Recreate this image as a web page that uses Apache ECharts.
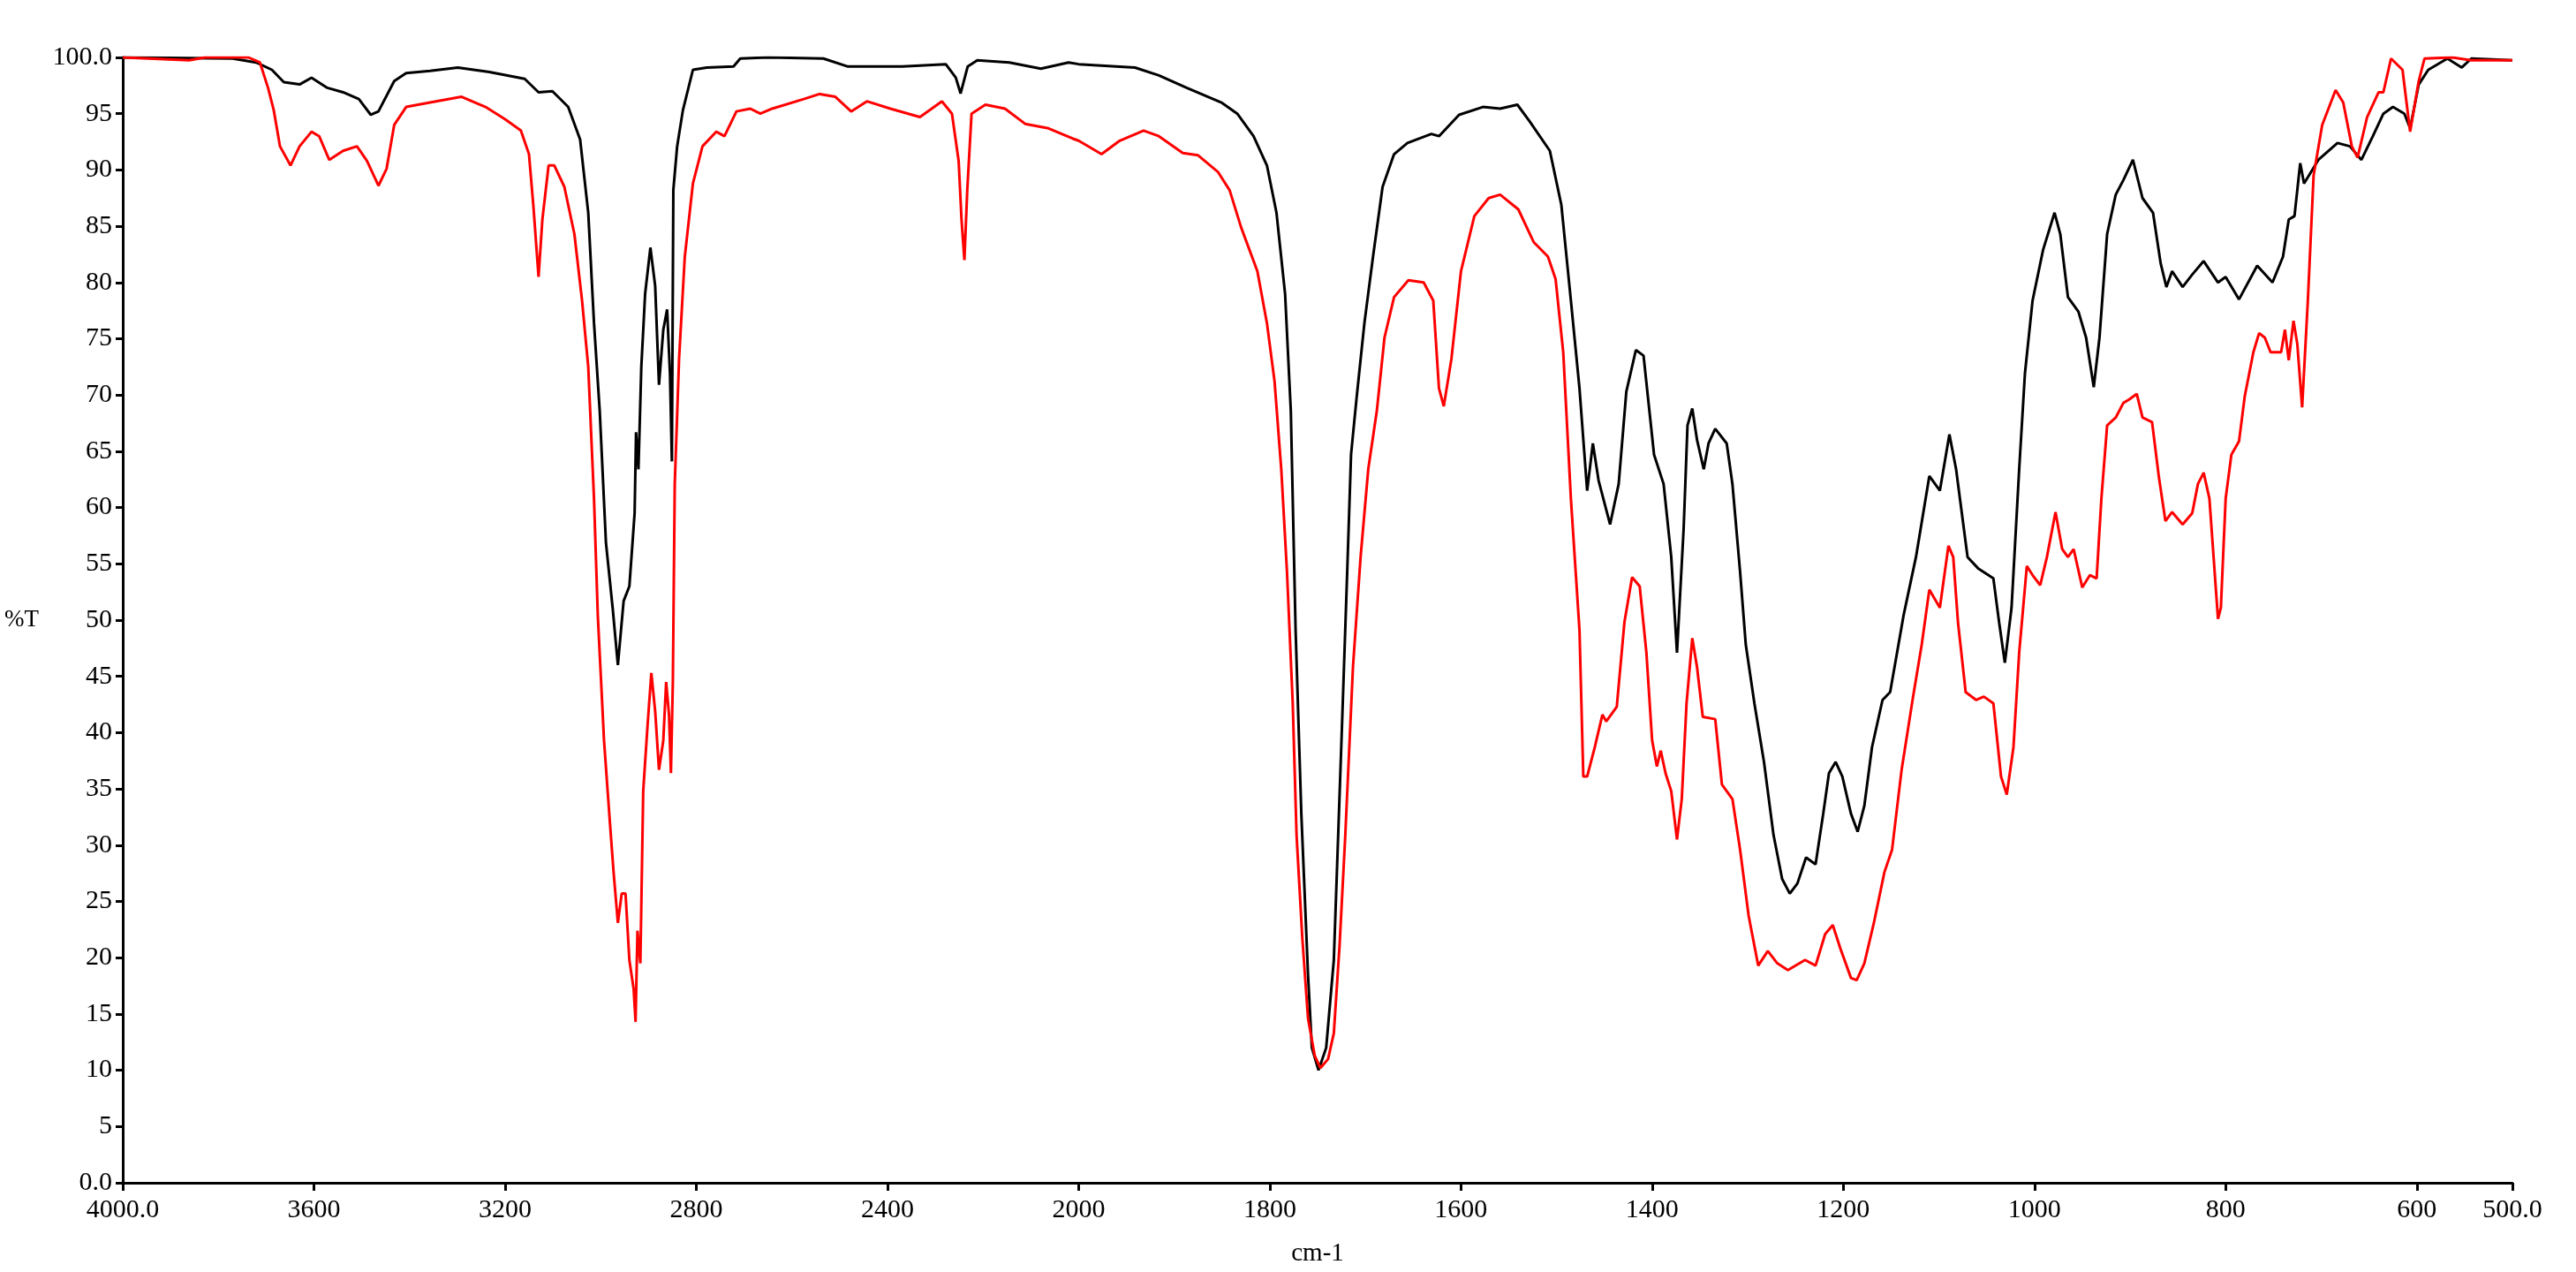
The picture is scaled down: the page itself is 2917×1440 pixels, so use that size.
<!DOCTYPE html>
<html>
<head>
<meta charset="utf-8">
<script src="https://cdn.jsdelivr.net/npm/echarts@6/dist/echarts.min.js"></script>
<style>
  html, body { margin: 0; padding: 0; background: #fff; }
  #chart { width: 2917px; height: 1440px; }
</style>
</head>
<body>
<div id="chart"></div>
<script>
// black spectrum: wavenumber (cm-1) and %T
var blackW = [4000,3770,3721,3688,3663,3630,3605,3572,3539,3506,3481,3465,3432,3407,3357,3299,3233,3159,3130,3101,3068,3043,3026,3014,3002,2989,2975,2964,2952,2940,2929,2926,2921,2915,2907,2896,2886,2878,2869,2861,2855,2851,2848,2840,2828,2807,2778,2722,
  2708,2650,2534,2484,2369,2278,2257,2247,2232,2212,2145,2079,2021,2000,1941,1916,1887,1850,1834,1817,1803,1793,1784,1778,1773,1767,1760,1756,1749,1741,1733,
  1725,1719,1715,1709,1701,1692,1682,1670,1656,1631,1623,1602,1577,1559,1541,1528,1507,1495,1485,1476,1468,1462,1456,1444,1435,1427,1417,1409,1398,1388,1380,1374,1367,1363,1358,1353,1346,1341,1334,1322,1316,1308,1302,1293,1283,1273,1264,1256,1248,1239,1229,1221,1215,1208,1201,1192,1185,1178,1170,1159,1151,1137,1124,1110,
  1099,1089,1082,1076,1070,1059,1043,1037,1031,1024,1016,1010,1002,991,979,973,965,954,946,938,932,924,915,907,897,887,876,868,862,856,845,835,823,808,800,786,767,751,740,734,728,722,718,703,683,670,658,646,635,625,613,607,598,588,568,553,543,500];
var blackT = [100.0,99.9,99.55,98.9,97.8,97.6,98.2,97.3,96.9,96.3,94.9,95.2,97.9,98.6,98.8,99.1,98.7,98.1,96.9,97.0,95.6,92.7,86.2,76.4,68.6,56.9,51.1,46.0,51.7,53.0,59.5,66.7,63.4,72.5,79.0,83.1,79.7,70.9,75.8,77.6,71.9,64.1,88.2,92.1,95.3,98.9,99.1,99.2,
  99.9,100.0,99.9,99.2,99.2,99.4,98.2,96.8,99.2,99.75,99.55,99.0,99.55,99.4,99.1,98.4,97.3,95.96,95.0,93.0,90.4,86.2,79.0,68.6,49.1,32.8,18.5,12.0,10.0,12.0,19.8,
  39.3,54.3,64.7,69.9,76.4,82.3,88.5,91.4,92.4,93.2,93.0,94.9,95.6,95.45,95.8,94.3,91.7,86.9,78.4,70.6,61.5,65.7,62.4,58.5,62.1,70.3,74.0,73.5,64.7,62.1,55.6,47.1,58.2,67.3,68.8,66.0,63.4,65.7,67.0,65.7,62.1,54.3,47.8,42.6,37.4,30.9,27.0,25.7,26.6,28.9,28.3,32.8,36.4,37.4,36.1,32.8,31.2,33.5,38.7,42.9,43.6,50.4,55.6,62.8,
  61.5,66.5,63.4,59.5,55.6,54.6,53.7,49.8,46.2,51.1,63.4,71.9,78.4,82.9,86.2,84.3,78.7,77.4,75.1,70.7,75.1,84.3,87.8,89.1,90.9,87.5,86.2,81.7,79.6,81.0,79.6,80.7,81.9,80.0,80.5,78.5,81.5,80.0,82.3,85.6,85.9,90.6,88.8,90.9,92.4,92.1,90.9,93.0,95.0,95.6,95.0,93.7,97.6,98.9,99.9,99.1,99.9,99.75];

// red spectrum
var redW = [4000,3861,3828,3737,3713,3696,3684,3671,3649,3630,3605,3589,3568,3539,3510,3489,3465,3448,3432,3407,3357,3291,3241,3200,3167,3150,3141,3130,3122,3109,3097,3076,3055,3039,3026,3014,3006,2993,2981,2973,2964,2956,2948,2940,2931,2927,2923,2917,2911,2902,2894,2886,2878,2869,2863,2857,2853,2849,2845,2836,2824,2807,2787,2758,2741,
  2716,2687,2666,2641,2575,2542,2509,2476,2443,2394,2332,2286,2265,2251,2245,2239,2233,2224,2195,2154,2112,2063,2013,2000,1976,1957,1932,1916,1891,1875,1854,1842,1830,1813,1803,1795,1788,1782,1776,1772,1766,1760,1753,1747,1739,1733,
  1727,1721,1713,1705,1697,1688,1680,1670,1655,1639,1629,1623,1618,1610,1600,1586,1571,1559,1540,1524,1509,1501,1493,1485,1476,1472,1468,1460,1452,1448,1437,1429,1421,1413,1406,1400,1395,1391,1386,1380,1374,1369,1364,1358,1353,1347,1334,1327,1316,1308,1299,1289,1279,1269,1258,1240,1229,1219,1211,1203,1192,1186,1178,1168,1157,1149,1139,1127,1118,1110,
  1099,1090,1085,1080,1072,1061,1053,1043,1035,1029,1022,1016,1008,1002,994,987,978,971,965,959,950,942,935,930,924,915,907,901,893,887,877,870,863,856,845,835,829,823,817,808,805,800,794,786,780,771,765,759,753,742,738,734,729,725,720,714,708,699,685,677,668,662,652,640,635,627,615,607,598,592,563,543,500];
var redT = [100.0,99.75,100.0,100.0,99.55,97.3,95.3,92.1,90.4,92.1,93.4,93.0,90.9,91.7,92.1,90.8,88.6,90.1,94.0,95.6,96.0,96.5,95.6,94.5,93.5,91.4,86.9,80.5,85.6,90.4,90.4,88.5,84.3,78.4,72.5,60.8,50.4,39.3,32.2,27.6,23.1,25.7,25.7,19.8,17.2,14.3,22.4,19.5,34.8,40.6,45.3,41.9,36.7,39.3,44.5,41.6,36.4,44.5,62.1,73.2,82.3,88.8,92.1,93.4,93.0,
  95.2,95.45,95.0,95.45,96.3,96.75,96.5,95.2,96.1,95.45,94.7,96.1,95.0,90.8,85.6,82.0,88.2,95.0,95.8,95.45,94.1,93.7,92.8,92.6,91.4,92.6,93.5,93.0,91.5,91.3,89.8,88.2,84.9,81.0,76.4,71.2,63.4,54.3,42.6,30.9,21.8,14.6,11.3,10.2,11.0,13.3,
  21.1,30.9,45.8,55.6,63.4,68.6,75.1,78.7,80.2,80.0,78.4,70.6,69.0,73.2,81.0,85.9,87.5,87.8,86.5,83.6,82.3,80.3,73.8,60.8,49.1,36.1,36.1,38.7,41.6,41.0,42.3,49.8,53.8,53.0,47.1,39.3,37.0,38.4,36.4,34.8,30.5,34.1,42.6,48.4,45.8,41.4,41.2,35.4,34.1,29.6,23.7,19.3,20.6,19.5,18.9,19.8,19.3,22.1,22.9,20.8,18.2,18.0,19.5,23.1,27.6,29.6,36.7,43.2,47.8,52.7,
  51.1,56.6,55.6,49.8,43.6,42.9,43.2,42.6,36.1,34.5,38.7,47.1,54.8,54.0,53.1,55.6,59.6,56.3,55.6,56.3,52.9,54.0,53.7,60.8,67.3,68.0,69.3,69.6,70.1,68.0,67.6,62.8,58.8,59.6,58.5,59.5,62.1,63.1,60.8,50.1,51.1,60.8,64.7,65.9,69.9,73.8,75.5,75.1,73.8,73.8,75.8,73.1,76.6,74.5,68.9,78.4,89.5,94.0,97.1,96.0,92.1,91.1,94.7,96.9,96.9,99.9,98.9,93.4,97.9,99.9,100.0,99.75,99.75];

// x tick positions (cm-1)
var xTicks = [4000, 3600, 3200, 2800, 2400, 2000, 1800, 1600, 1400, 1200, 1000, 800, 600, 500];

// above 2000 cm-1 the axis is compressed by half
function toU(w) { return w >= 2000 ? (4000 - w) / 2 : 1000 + (2000 - w); }
function fromU(u) { return u <= 1000 ? 4000 - u * 2 : 2000 - (u - 1000); }

function pairs(ws, ts) {
  return ws.map(function (w, i) { return [toU(w), ts[i]]; });
}

var font = '"Liberation Serif", "DejaVu Serif", serif';
var chart = echarts.init(document.getElementById('chart'));

var option = {
  animation: false,
  backgroundColor: '#ffffff',
  grid: { left: 139, right: 72, top: 65, bottom: 101 },
  xAxis: {
    type: 'value',
    min: 0,
    max: 2500,
    interval: 200,
    name: 'cm-1',
    nameLocation: 'middle',
    nameGap: 66,
    nameTextStyle: { fontFamily: font, fontSize: 29, color: '#000' },
    axisLine: { lineStyle: { color: '#000', width: 3 } },
    axisTick: { show: true, length: 9, lineStyle: { color: '#000', width: 3 },
      customValues: xTicks.map(toU) },
    axisLabel: {
      fontFamily: font, fontSize: 30, color: '#000', margin: 16,
      customValues: xTicks.map(toU),
      formatter: function (u) {
        var w = Math.round(fromU(u));
        return (w === 4000 || w === 500) ? w.toFixed(1) : String(w);
      }
    },
    splitLine: { show: false }
  },
  yAxis: {
    type: 'value',
    min: 0,
    max: 100,
    interval: 5,
    name: '%T',
    nameLocation: 'middle',
    nameRotate: 0,
    nameGap: 95,
    nameTextStyle: { fontFamily: font, fontSize: 27, color: '#000', padding: [20, 0, 0, 0] },
    axisLine: { show: true, lineStyle: { color: '#000', width: 3 } },
    axisTick: { show: true, length: 8, lineStyle: { color: '#000', width: 3 } },
    axisLabel: {
      fontFamily: font, fontSize: 30, color: '#000', margin: 12,
      formatter: function (v) { return (v === 0 || v === 100) ? v.toFixed(1) : String(v); }
    },
    splitLine: { show: false }
  },
  series: [
    {
      name: 'black', type: 'line', data: pairs(blackW, blackT),
      showSymbol: false, symbol: 'none',
      lineStyle: { color: '#000000', width: 3 }
    },
    {
      name: 'red', type: 'line', data: pairs(redW, redT),
      showSymbol: false, symbol: 'none',
      lineStyle: { color: '#ff0000', width: 3 }
    }
  ]
};

chart.setOption(option);
</script>
</body>
</html>
